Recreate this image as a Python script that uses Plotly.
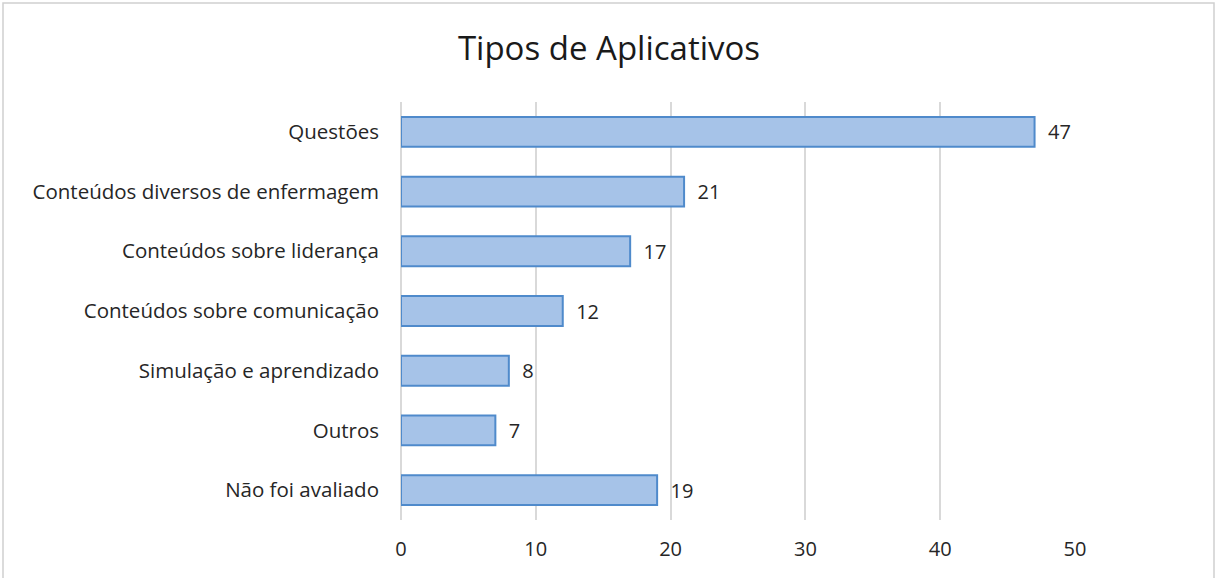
import plotly.graph_objects as go

categories = ["Questões", "Conteúdos diversos de enfermagem", "Conteúdos sobre liderança",
              "Conteúdos sobre comunicação", "Simulação e aprendizado", "Outros", "Não foi avaliado"]
values = [47, 21, 17, 12, 8, 7, 19]
tick_vals = [0, 10, 20, 30, 40, 50]

W, H = 1218, 578
L, R, T, B = 401, 143, 102, 58
pw, ph = W - L - R, H - T - B
FONT = "Open Sans"

fig = go.Figure(go.Bar(
    y=categories, x=values, orientation="h",
    marker=dict(color="#a6c3e8", line=dict(color="#4f8acb", width=2)),
    width=0.5,
    text=[f"  {v}" for v in values], textposition="outside",
    textfont=dict(size=20, color="#262626", family=FONT),
    cliponaxis=False,
))

fig.update_layout(
    width=W, height=H,
    margin=dict(l=L, r=R, t=T, b=B),
    paper_bgcolor="white", plot_bgcolor="white",
    title=dict(text="Tipos de Aplicativos", x=0.5, xref="container", xanchor="center",
               y=1 - 48 / H, yanchor="middle",
               font=dict(size=33, color="#1a1a1a", family=FONT)),
    xaxis=dict(range=[0, 50], tickvals=tick_vals, showgrid=True, gridcolor="#d9d9d9", gridwidth=2,
               zeroline=True, zerolinecolor="#d9d9d9", zerolinewidth=2,
               showline=False, ticks="", ticklabelstandoff=15,
               tickfont=dict(size=20, color="#262626", family=FONT)),
    yaxis=dict(autorange="reversed", showgrid=False, zeroline=False, showline=False, ticks="",
               ticklabelstandoff=21,
               tickfont=dict(size=20.5, color="#262626", family=FONT)),
    showlegend=False,
    shapes=[dict(type="rect", xref="paper", yref="paper",
                 x0=(3 - L) / pw, x1=(1214 - L) / pw,
                 y0=(H - B - 580) / ph, y1=(H - B - 3) / ph,
                 line=dict(color="#d0d0d0", width=1.5), fillcolor="rgba(0,0,0,0)", layer="below")],
)

fig.write_html("out.html", config={"displayModeBar": False},
               post_script="document.body.style.margin='0';document.body.style.padding='0';")
